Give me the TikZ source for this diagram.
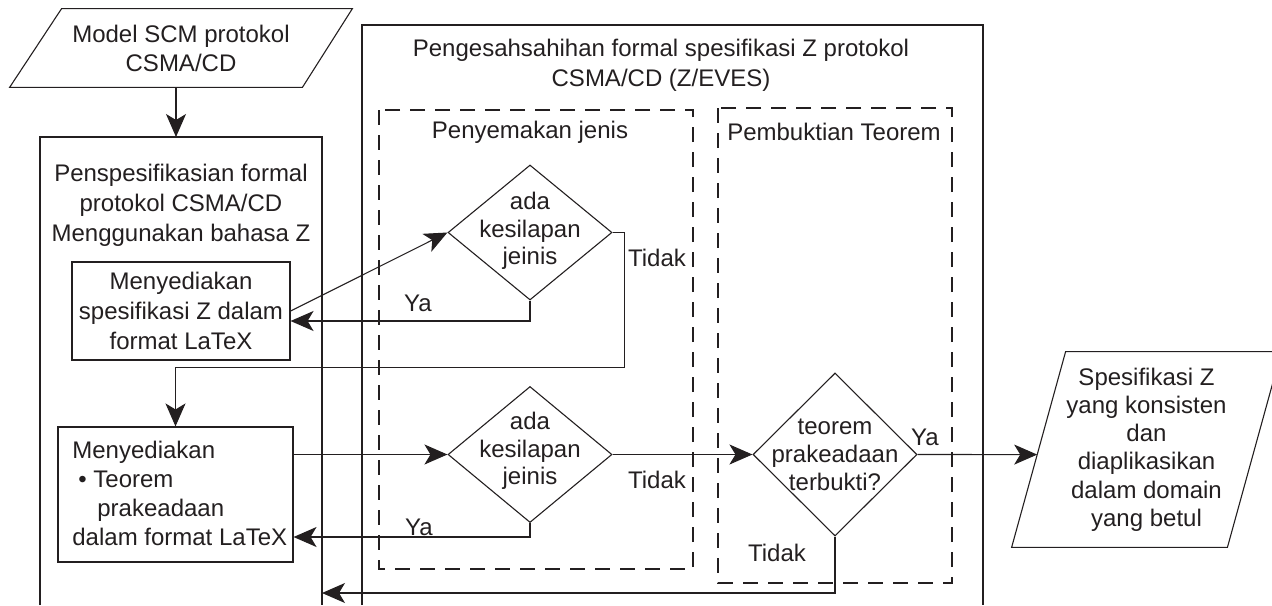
\documentclass[tikz,border=0pt]{standalone}
\usepackage{fontspec}
\setmainfont{Liberation Sans}
\usetikzlibrary{arrows.meta,shapes.geometric,calc}
\definecolor{ink}{HTML}{231F20}
\tikzset{
	ln/.style={draw=ink, line width=0.55pt},
	arr/.style={ln, -{Stealth[length=11.5pt,width=10pt,inset=3pt]}},
	txt/.style={text=ink, align=center, inner sep=0pt, font=\fontsize{12}{14.5}\selectfont},
	box/.style={ln, txt, rectangle},
	dec/.style={ln, diamond, inner sep=0pt},
	io/.style={txt, rectangle},
	dashbox/.style={ln, dash pattern=on 7.5pt off 5pt},
}

\begin{document}
\begin{tikzpicture}[x=0.5pt, y=-0.5pt]
		\useasboundingbox (0,0) rectangle (1272,605);
		%%%%% START %%%%%
		\node[io, minimum width=171pt, minimum height=39pt] (model) at (181,48) {Model SCM protokol\\CSMA/CD};
		\draw[ln] (model.south west) -- ([xshift=26pt]model.north west) -- (model.north east) -- ([xshift=-25pt]model.south east) -- cycle;
		
		%% left column
		\draw[ln] (40,605) -- (40,137) -- (322,137) -- (322,605);
		\coordinate (spectop) at (176,137);
		\node[txt, font=\fontsize{12}{15}\selectfont] (spectitle) at (181,205) {Penspesifikasian formal\\protokol CSMA/CD\\Menggunakan bahasa Z};
		\node[box, font=\fontsize{12}{15}\selectfont, minimum width=109pt, minimum height=49pt] (zspec) at (181,311) {Menyediakan\\spesifikasi Z dalam\\format LaTeX};
		\node[box, minimum width=117.5pt, minimum height=67.5pt] (thm) at (175.5,494.5) {};
		\node[txt, align=left, anchor=west] (thmtxt) at (72,493) {Menyediakan\\\hspace*{3pt}\textbullet\ Teorem\\\hspace*{12.5pt}prakeadaan\\dalam format LaTeX};
		
		%% middle column
		\draw[ln] (362,605) -- (362,25) -- (983,25) -- (983,605);
		\node[txt, font=\fontsize{12}{15}\selectfont] (checktitle) at (661,65) {Pengesahsahihan formal spesifikasi Z protokol\\CSMA/CD (Z/EVES)};
		\draw[dashbox] (379,110) rectangle (693,569);
		\node[txt] (typetitle) at (530,132) {Penyemakan jenis};
		\draw[dashbox] (718,108) rectangle (952,583);
		\node[txt] (prooftitle) at (834,132) {Pembuktian Teorem};
		
		\node[dec, minimum width=82pt, minimum height=67.5pt] (chk1) at (530,232.5) {};
		\node[txt, font=\fontsize{12}{13.75}\selectfont] (chk1txt) at (530,231) {ada\\kesilapan\\jeinis};
		\node[dec, minimum width=82pt, minimum height=68pt] (chk2) at (530,454.5) {};
		\node[txt, font=\fontsize{12}{13.75}\selectfont] (chk2txt) at (530,451) {ada\\kesilapan\\jeinis};
		\node[dec, minimum width=82pt, minimum height=81.5pt] (prove) at (835,454.5) {};
		\node[txt, font=\fontsize{12}{14}\selectfont] (provetxt) at (835,455) {teorem\\prakeadaan\\terbukti?};
		
		\node[txt] (no1) at (657,258) {Tidak};
		\node[txt] (yes1) at (418,303) {Ya};
		\node[txt] (no2) at (657,480) {Tidak};
		\node[txt] (yes2) at (419,527) {Ya};
		\node[txt] (yes3) at (925,437) {Ya};
		\node[txt] (no3) at (777,553) {Tidak};
		
		%% result
		\node[io, font=\fontsize{12}{14.1}\selectfont, minimum width=134.5pt, minimum height=97.5pt] (result) at (1146.5,449.5) {Spesifikasi Z\\yang konsisten\\dan\\diaplikasikan\\dalam domain\\yang betul};
		\draw[ln] (result.south west) -- ([xshift=27pt]result.north west) -- (result.north east) -- ([xshift=-27pt]result.south east) -- cycle;
		\coordinate (resultin) at ($(result.south west)!0.474!([xshift=27pt]result.north west)$);
		
		%% arrows
		\draw[arr] (model.south -| spectop) -- (spectop);
		\draw[arr] (zspec.east) -- (chk1.west);
		\draw[arr] (chk1.south) |- ([yshift=-5pt]zspec.east);
		\draw[arr] (chk1.east) -- ++(12,0) -- ++(0,135) -| (thm.north);
		\draw[arr] ([yshift=20pt]thm.east) -- (chk2.west);
		\draw[arr] (chk2.south) |- ([yshift=-21.25pt]thm.east);
		\draw[arr] (chk2.east) -- (prove.west);
		\draw[arr] (prove.east) -- (resultin);
		\coordinate (backin) at (322,593);
		\draw[arr] (prove.south) |- (backin);
		%%%%% END %%%%%
	\end{tikzpicture}
\end{document}
